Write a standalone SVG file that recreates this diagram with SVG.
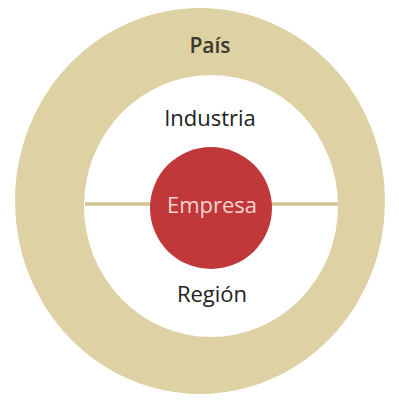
<svg xmlns="http://www.w3.org/2000/svg" width="399" height="402" viewBox="0 0 399 402">
  <style>
    .lbl { font-family: "Open Sans", "Noto Sans", "DejaVu Sans", sans-serif; text-anchor: middle; }
    .ring { fill: #ded1a3; }
    .inner { fill: #ffffff; }
    .core { fill: #c1383b; }
  </style>
  <rect width="399" height="402" fill="#ffffff"/>
  <g id="pais">
    <ellipse class="ring" cx="200" cy="201" rx="185" ry="193"/>
    <text class="lbl" x="210" y="53" font-size="21" font-weight="600" fill="#3b3a2c">País</text>
  </g>
  <g id="industria-region">
    <ellipse class="inner" cx="211" cy="206" rx="127" ry="131"/>
    <text class="lbl" x="210" y="126" font-size="22" fill="#222222">Industria</text>
    <text class="lbl" x="212" y="302" font-size="22" fill="#222222">Región</text>
  </g>
  <g id="connectors">
    <line x1="85" y1="204" x2="338" y2="204" stroke="#d2c48f" stroke-width="3.5"/>
  </g>
  <g id="empresa">
    <circle class="core" cx="211" cy="208" r="61"/>
    <text class="lbl" x="212" y="213" font-size="22" fill="#f6d4cf">Empresa</text>
  </g>
</svg>
